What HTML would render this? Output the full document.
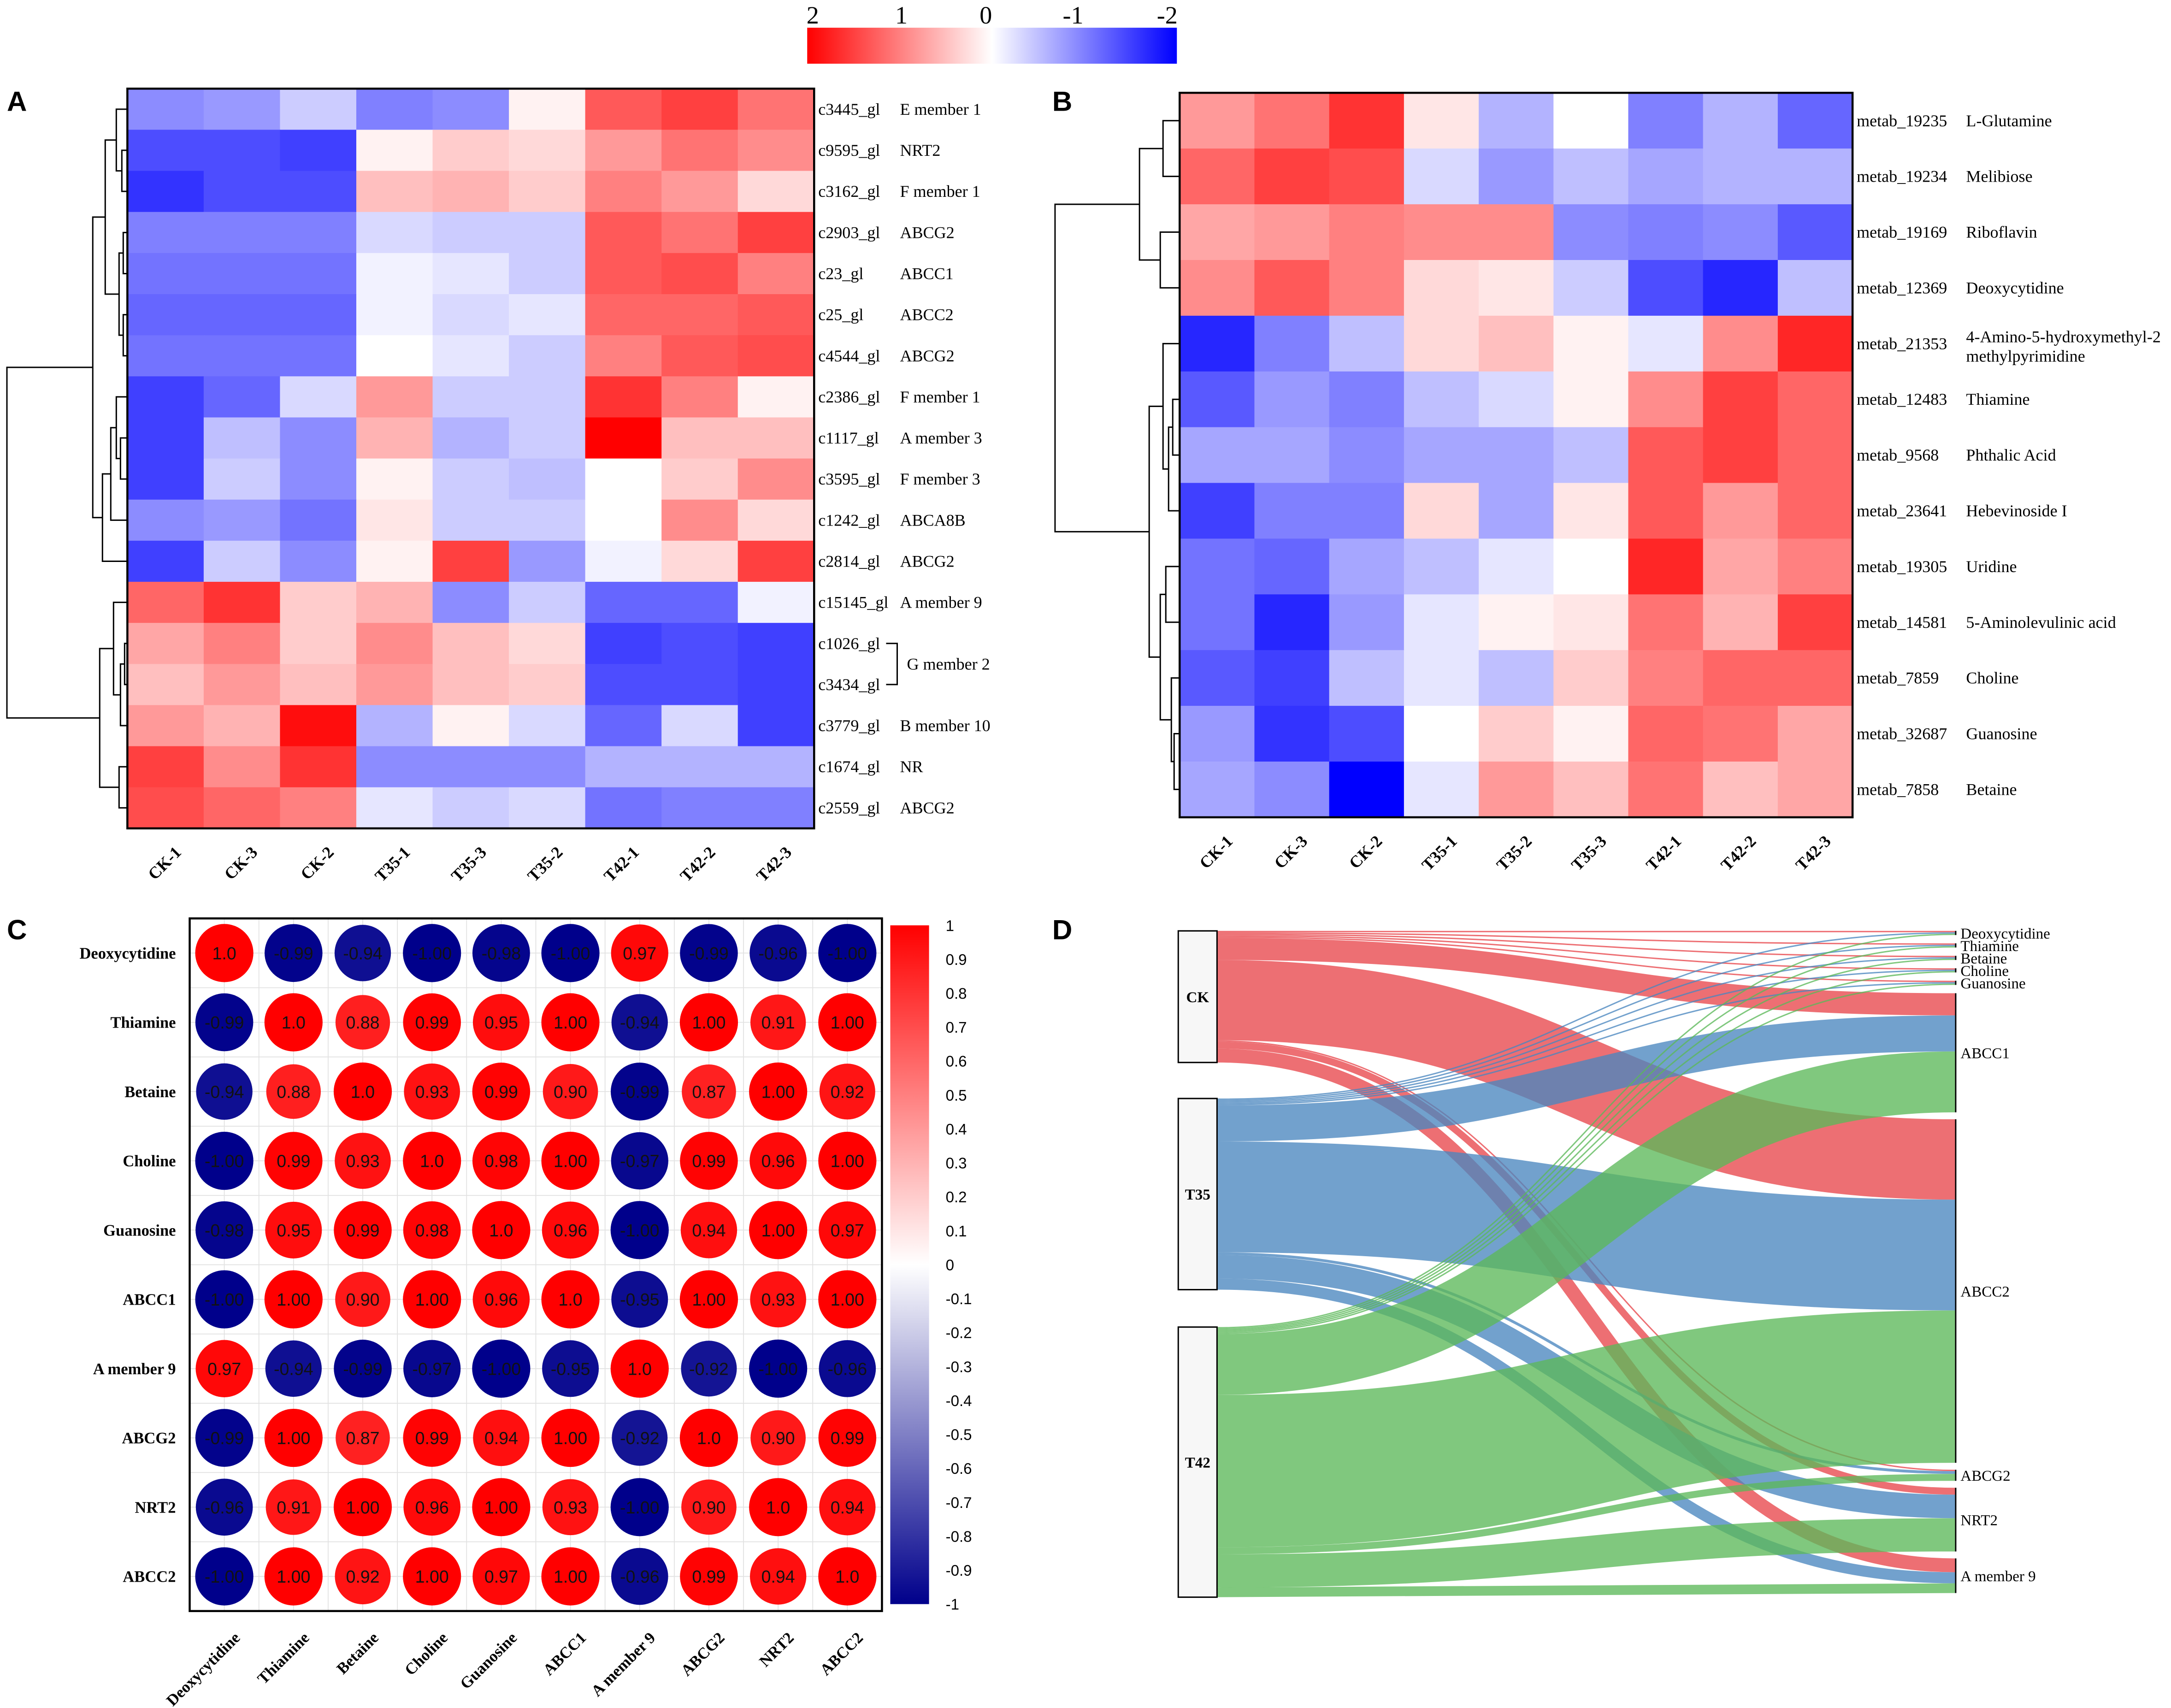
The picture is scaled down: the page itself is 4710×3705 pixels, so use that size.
<!DOCTYPE html>
<html><head><meta charset="utf-8"><style>
html,body{margin:0;padding:0;background:#fff;}
svg{display:block;}
</style></head><body>
<svg id="fig" xmlns="http://www.w3.org/2000/svg" width="4710" height="3705" viewBox="0 0 1568 1233" preserveAspectRatio="none" font-family="'Liberation Serif', serif">
<defs>
<linearGradient id="topbar" x1="0" x2="1" y1="0" y2="0">
<stop offset="0" stop-color="#ff0000"/><stop offset="0.5" stop-color="#ffffff"/><stop offset="1" stop-color="#0000ff"/>
</linearGradient>
<linearGradient id="corrbar" x1="0" x2="0" y1="0" y2="1">
<stop offset="0" stop-color="#ff0000"/><stop offset="0.5" stop-color="#ffffff"/><stop offset="1" stop-color="#00008b"/>
</linearGradient>
</defs>
<g id="top-legend">
<rect x="583" y="20" width="267" height="26" fill="url(#topbar)"/>
<text x="587" y="17" font-size="18" text-anchor="middle">2</text>
<text x="651" y="17" font-size="18" text-anchor="middle">1</text>
<text x="712" y="17" font-size="18" text-anchor="middle">0</text>
<text x="775" y="17" font-size="18" text-anchor="middle">-1</text>
<text x="843" y="17" font-size="18" text-anchor="middle">-2</text>
</g>
<text x="5" y="80" font-size="20" font-weight="bold" font-family="'Liberation Sans',sans-serif">A</text>
<text x="760" y="80" font-size="20" font-weight="bold" font-family="'Liberation Sans',sans-serif">B</text>
<text x="5" y="678" font-size="20" font-weight="bold" font-family="'Liberation Sans',sans-serif">C</text>
<text x="760" y="678" font-size="20" font-weight="bold" font-family="'Liberation Sans',sans-serif">D</text>
<g id="gA"></g>
<g id="gB"></g>
<g id="gC"></g>
<g id="gD"></g>
</svg>
<script>
const colsAB = ["CK-1","CK-3","CK-2","T35-1","T35-3","T35-2","T42-1","T42-2","T42-3"];
const colsB = ["CK-1","CK-3","CK-2","T35-1","T35-2","T35-3","T42-1","T42-2","T42-3"];
const geneIds = ["c3445_gl","c9595_gl","c3162_gl","c2903_gl","c23_gl","c25_gl","c4544_gl","c2386_gl","c1117_gl","c3595_gl","c1242_gl","c2814_gl","c15145_gl","c1026_gl","c3434_gl","c3779_gl","c1674_gl","c2559_gl"];
const geneNames = ["E member 1","NRT2","F member 1","ABCG2","ABCC1","ABCC2","ABCG2","F member 1","A member 3","F member 3","ABCA8B","ABCG2","A member 9","","","B member 10","NR","ABCG2"];
const geneValues = [
[-0.9,-0.8,-0.4,-1.0,-0.9,0.1,1.3,1.5,1.1],
[-1.4,-1.4,-1.5,0.1,0.4,0.3,0.8,1.1,0.9],
[-1.6,-1.4,-1.4,0.5,0.6,0.4,1.0,0.8,0.3],
[-1.0,-1.0,-1.0,-0.3,-0.4,-0.4,1.3,1.1,1.5],
[-1.1,-1.1,-1.1,-0.1,-0.2,-0.4,1.3,1.4,1.0],
[-1.2,-1.2,-1.2,-0.1,-0.3,-0.2,1.2,1.2,1.3],
[-1.1,-1.1,-1.1,0,-0.2,-0.4,1.0,1.3,1.4],
[-1.5,-1.2,-0.3,0.8,-0.4,-0.4,1.6,1.0,0.1],
[-1.5,-0.5,-0.9,0.6,-0.6,-0.4,2.0,0.5,0.5],
[-1.5,-0.4,-0.9,0.1,-0.4,-0.5,0,0.4,0.9],
[-0.9,-0.8,-1.1,0.2,-0.4,-0.4,0,0.9,0.3],
[-1.5,-0.4,-0.9,0.1,1.5,-0.8,-0.1,0.3,1.5],
[1.2,1.6,0.4,0.6,-0.9,-0.4,-1.2,-1.2,-0.1],
[0.7,1.0,0.4,0.9,0.5,0.3,-1.5,-1.4,-1.5],
[0.5,0.8,0.5,0.8,0.5,0.4,-1.4,-1.4,-1.5],
[0.8,0.6,1.9,-0.6,0.1,-0.3,-1.2,-0.3,-1.5],
[1.5,0.9,1.6,-0.9,-0.9,-0.9,-0.6,-0.6,-0.6],
[1.4,1.2,1.0,-0.2,-0.4,-0.3,-1.1,-1.0,-1.0]];
const metIds = ["metab_19235","metab_19234","metab_19169","metab_12369","metab_21353","metab_12483","metab_9568","metab_23641","metab_19305","metab_14581","metab_7859","metab_32687","metab_7858"];
const metNames = ["L-Glutamine","Melibiose","Riboflavin","Deoxycytidine","4-Amino-5-hydroxymethyl-2","Thiamine","Phthalic Acid","Hebevinoside I","Uridine","5-Aminolevulinic acid","Choline","Guanosine","Betaine"];
const metValues = [
[0.8,1.1,1.6,0.2,-0.6,0,-1.0,-0.6,-1.2],
[1.2,1.5,1.4,-0.3,-0.8,-0.5,-0.7,-0.6,-0.6],
[0.7,0.8,1.0,0.9,0.9,-0.9,-1.0,-0.9,-1.3],
[0.9,1.3,1.0,0.3,0.2,-0.4,-1.4,-1.7,-0.5],
[-1.7,-1.0,-0.5,0.3,0.5,0.1,-0.2,0.9,1.7],
[-1.3,-0.8,-1.0,-0.5,-0.3,0.1,0.9,1.5,1.2],
[-0.7,-0.7,-0.9,-0.7,-0.7,-0.5,1.3,1.5,1.2],
[-1.5,-1.0,-1.0,0.3,-0.7,0.2,1.3,0.8,1.2],
[-1.1,-1.2,-0.7,-0.5,-0.2,0,1.7,0.7,1.0],
[-1.1,-1.7,-0.8,-0.2,0.1,0.2,1.1,0.6,1.5],
[-1.3,-1.5,-0.5,-0.2,-0.5,0.4,1.0,1.2,1.2],
[-0.8,-1.6,-1.4,0,0.4,0.1,1.2,1.1,0.7],
[-0.7,-0.9,-2.0,-0.2,0.8,0.5,1.1,0.5,0.7]];
const corrLabels = ["Deoxycytidine","Thiamine","Betaine","Choline","Guanosine","ABCC1","A member 9","ABCG2","NRT2","ABCC2"];
const corrValues = [
[1.0,-0.99,-0.94,-1.00,-0.98,-1.00,0.97,-0.99,-0.96,-1.00],
[-0.99,1.0,0.88,0.99,0.95,1.00,-0.94,1.00,0.91,1.00],
[-0.94,0.88,1.0,0.93,0.99,0.90,-0.99,0.87,1.00,0.92],
[-1.00,0.99,0.93,1.0,0.98,1.00,-0.97,0.99,0.96,1.00],
[-0.98,0.95,0.99,0.98,1.0,0.96,-1.00,0.94,1.00,0.97],
[-1.00,1.00,0.90,1.00,0.96,1.0,-0.95,1.00,0.93,1.00],
[0.97,-0.94,-0.99,-0.97,-1.00,-0.95,1.0,-0.92,-1.00,-0.96],
[-0.99,1.00,0.87,0.99,0.94,1.00,-0.92,1.0,0.90,0.99],
[-0.96,0.91,1.00,0.96,1.00,0.93,-1.00,0.90,1.0,0.94],
[-1.00,1.00,0.92,1.00,0.97,1.00,-0.96,0.99,0.94,1.0]];
const corrTicks = [1,0.9,0.8,0.7,0.6,0.5,0.4,0.3,0.2,0.1,0,-0.1,-0.2,-0.3,-0.4,-0.5,-0.6,-0.7,-0.8,-0.9,-1];
const sankeySources = ["CK","T35","T42"];
const sankeyTargets = ["Deoxycytidine","Thiamine","Betaine","Choline","Guanosine","ABCC1","ABCC2","ABCG2","NRT2","A member 9"];
const sankeyCK  = [1,1,1,1,1,16,58,1,5,10];
const sankeyT35 = [1,1,1,1,1,26,80,2,17,8];
const sankeyT42 = [1,1,1,1,1,44,110,5,24,7];

const NS="http://www.w3.org/2000/svg";
function mk(parent,tag,attrs,text){const e=document.createElementNS(NS,tag);for(const k in attrs)e.setAttribute(k,attrs[k]);if(text!==undefined)e.textContent=text;parent.appendChild(e);return e;}
function heatColor(v){let t=Math.max(-1,Math.min(1,v/2));if(t>=0){const c=Math.round(255*(1-t));return `rgb(255,${c},${c})`;}const c=Math.round(255*(1+t));return `rgb(${c},${c},255)`;}
function corrColor(v){let t=Math.max(-1,Math.min(1,v));if(t>=0){const c=Math.round(255*(1-t));return `rgb(255,${c},${c})`;}const s=-t;return `rgb(${Math.round(255*(1-s))},${Math.round(255*(1-s))},${Math.round(255-(255-139)*s)})`;}
function drawTree(g,node,yc,x0,scale){
  if(typeof node==="number")return yc(node);
  const h=node[0];const ya=drawTree(g,node[1],yc,x0,scale);const yb=drawTree(g,node[2],yc,x0,scale);
  const hx=x0-h*scale;
  const hl=typeof node[1]==="number"?0:node[1][0];const hr=typeof node[2]==="number"?0:node[2][0];
  const l=mk(g,"path",{d:`M${x0-hl*scale},${ya}H${hx}V${yb}H${x0-hr*scale}`,fill:"none",stroke:"#000","stroke-width":1});
  
  
  return (ya+yb)/2;
}
function heatmap(gid,vals,cols,x0,y0,x1,y1,ids,names,nameX,tree,treeScale,multiNames){
  const g=document.getElementById(gid);
  const nr=vals.length,nc=cols.length,cw=(x1-x0)/nc,ch=(y1-y0)/nr;
  const xs=i=>x0+i*cw, ys=j=>y0+j*ch;
  vals.forEach((row,j)=>row.forEach((v,i)=>{
    const r=mk(g,"rect",{x:xs(i),y:ys(j),width:cw+0.5,height:ch+0.5,fill:heatColor(v)});
    
    
  }));
  const b=mk(g,"rect",{x:x0,y:y0,width:x1-x0,height:y1-y0,fill:"none",stroke:"#000","stroke-width":1.5});
  
  
  ids.forEach((id,j)=>{
    const t=mk(g,"text",{x:x1+3,y:ys(j)+ch/2+4,"font-size":12},id);
    
    
    if(names[j]){
      if(multiNames&&names[j].startsWith("4-Amino")){
        const n=mk(g,"text",{x:nameX,y:ys(j)+ch/2-1,"font-size":12},"4-Amino-5-hydroxymethyl-2");
        
        
        const n2=mk(g,"text",{x:nameX,y:ys(j)+ch/2+13,"font-size":12},"methylpyrimidine");
        
        
      } else {
        const n=mk(g,"text",{x:nameX,y:ys(j)+ch/2+4,"font-size":12},names[j]);
        
        
      }
    }
  });
  cols.forEach((c,i)=>{
    const cx=xs(i)+cw/2, cy=y1+12;
    const t=mk(g,"text",{x:cx+12,y:cy+6,"font-size":12,"font-weight":"bold","text-anchor":"end",transform:`rotate(-45 ${cx+12} ${cy+6})`},c);
    
    
  });
  drawTree(g,tree,j=>ys(j)+ch/2,x0,treeScale);
  return {ys,ch};
}
// Panel A
const treeA=[87,[25,[16,[8,0,[4,1,2]],[6,[3,3,4],[3,5,6]]],[18,[12,[8,7,[5,8,9]],10],11]],[20,[10,12,[5,[2,13,14],15]],[6,16,17]]];
const A=heatmap("gA",geneValues,colsAB,92,64,588,598,geneIds,geneNames,650,treeA,1,false);
{const g=document.getElementById("gA");
 const y1=A.ys(13)+A.ch/2,y2=A.ys(14)+A.ch/2;
 const br=mk(g,"path",{d:`M640,${y1}H648V${y2}H640`,fill:"none",stroke:"#000","stroke-width":1});
 
 
 const t=mk(g,"text",{x:655,y:(y1+y2)/2+4,"font-size":12},"G member 2");
 
 }
// Panel B
const treeB=[90,[29,[12,0,1],[14,2,3]],[22,[12,4,[8,[5,5,6],7]],[14,[10,8,9],[6,10,[4,11,12]]]]];
heatmap("gB",metValues,colsB,852,67,1338,590,metIds,metNames,1420,treeB,1,true);
// Panel C
{const g=document.getElementById("gC");
 const x0=137,y0=663,cs=50,n=corrLabels.length;
 const xc=i=>x0+i*cs+cs/2, yc=j=>y0+j*cs+cs/2;
 for(let i=0;i<=n*2;i++){
   const p=x0+i*cs/2;
   mk(g,"line",{x1:p,y1:y0,x2:p,y2:y0+n*cs,stroke:"#e2e2e2","stroke-width":0.6});
   mk(g,"line",{x1:x0,y1:p-x0+y0,x2:x0+n*cs,y2:p-x0+y0,stroke:"#e2e2e2","stroke-width":0.6});
 }
 corrValues.forEach((row,j)=>row.forEach((v,i)=>{
   const c=mk(g,"circle",{cx:xc(i),cy:yc(j),r:21*Math.sqrt(Math.abs(v)),fill:corrColor(v)});
   
   
   const lbl=(i===j)?v.toFixed(1):v.toFixed(2);
   const t=mk(g,"text",{x:xc(i),y:yc(j)+4.5,"font-size":12.5,"text-anchor":"middle","font-family":"'Liberation Sans',sans-serif",fill:"#111"},lbl);
   
   
 }));
 const b=mk(g,"rect",{x:x0,y:y0,width:n*cs,height:n*cs,fill:"none",stroke:"#000","stroke-width":1.5});
 
 
 corrLabels.forEach((l,j)=>{
   const t=mk(g,"text",{x:x0-10,y:yc(j)+4,"font-size":11.5,"font-weight":"bold","text-anchor":"end"},l);
   
   
   const cx=xc(j)+12,cy=y0+n*cs+20;
   const t2=mk(g,"text",{x:cx,y:cy,"font-size":11.5,"font-weight":"bold","text-anchor":"end",transform:`rotate(-45 ${cx} ${cy})`},l);
   
   
 });
 const cb=mk(g,"rect",{x:643,y:668,width:28,height:490,fill:"url(#corrbar)"});
 
 
 const ty=v=>668+(1-v)/2*490;
 corrTicks.forEach(v=>{
   const t=mk(g,"text",{x:683,y:ty(v)+4,"font-size":11,"font-family":"'Liberation Sans',sans-serif"},String(v));
   
   
 });
}
// Panel D
{const g=document.getElementById("gD");
 const flows=[sankeyCK,sankeyT35,sankeyT42];
 const colors=["#e8474b","#4a87bf","#5cb85a"];
 const lx=851,lw=28,rx=1412;
 const srcTops=[672,793,958];
 const srcTot=flows.map(f=>f.reduce((a,b)=>a+b,0));
 const tgtTot=sankeyTargets.map((_,k)=>flows.reduce((a,f)=>a+f[k],0));
 const tgtTops=[];let y=672;
 tgtTot.forEach((t,k)=>{tgtTops.push(y);y+=t+(k<4?6:(k===4?6:5));});
 const srcCursor=srcTops.slice();
 const linkStart=flows.map(()=>[]);
 flows.forEach((f,s)=>f.forEach((v,k)=>{linkStart[s][k]=srcCursor[s];srcCursor[s]+=v;}));
 const tgtCursor=tgtTops.slice();
 flows.forEach((f,s)=>f.forEach((v,k)=>{
   const y0=linkStart[s][k]+v/2,y1=tgtCursor[k]+v/2;tgtCursor[k]+=v;
   const xm=(lx+lw+rx)/2;
   const p=mk(g,"path",{d:`M${lx+lw},${y0}C${xm},${y0} ${xm},${y1} ${rx},${y1}`,fill:"none",stroke:colors[s],"stroke-width":Math.max(v,0.8),"stroke-opacity":0.78});
   
   
 }));
 sankeySources.forEach((s,i)=>{
   const r=mk(g,"rect",{x:lx,y:srcTops[i],width:lw,height:srcTot[i],fill:"#f7f7f7",stroke:"#000","stroke-width":1});
   
   
   const t=mk(g,"text",{x:lx+lw/2,y:srcTops[i]+srcTot[i]/2+4,"font-size":11,"font-weight":"bold","text-anchor":"middle"},s);
   
   
 });
 sankeyTargets.forEach((s,k)=>{
   const r=mk(g,"line",{x1:rx+0.5,y1:tgtTops[k],x2:rx+0.5,y2:tgtTops[k]+tgtTot[k],stroke:"#000","stroke-width":1});
   
   
   const t=mk(g,"text",{x:rx+4,y:tgtTops[k]+tgtTot[k]/2+4,"font-size":11},s);
   
   
 });
}
</script>
</body></html>
